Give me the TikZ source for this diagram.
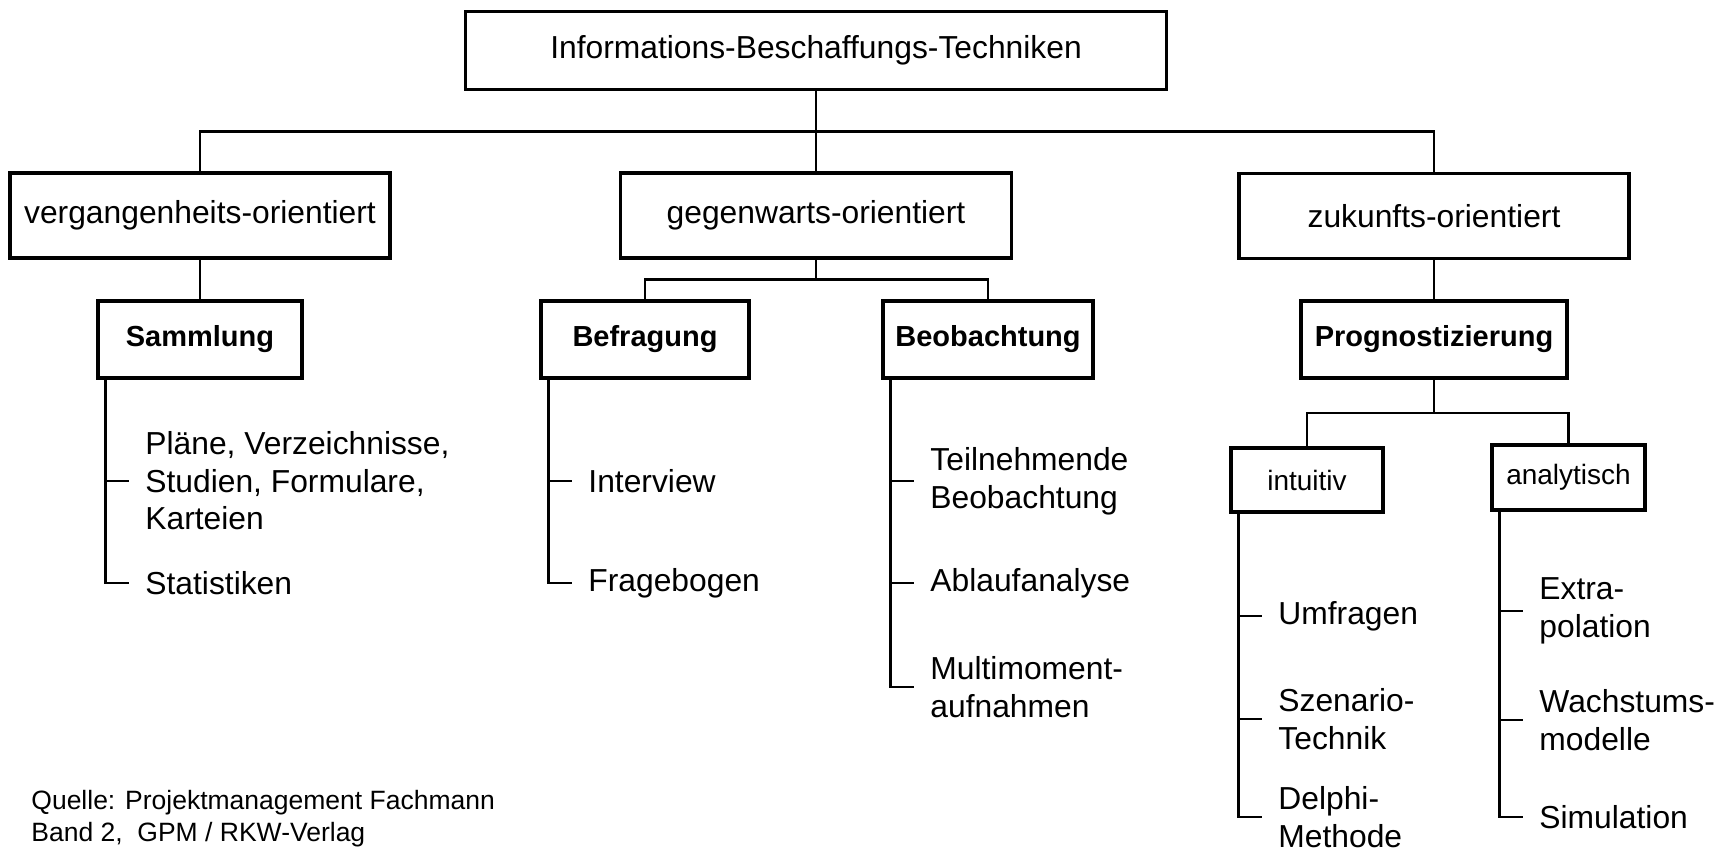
\documentclass[tikz,border=0pt]{standalone}
\usepackage{fontspec}
\setmainfont{Liberation Sans}
\usetikzlibrary{calc}

\begin{document}
\begin{tikzpicture}[x=0.5pt,y=-0.5pt,line width=1.4pt,
    box/.style={draw,line width=1.6pt,inner sep=0pt,font=\fontsize{15.9}{19}\selectfont},
    subbox/.style={box,font=\fontsize{14.5}{17}\selectfont\bfseries},
    smallbox/.style={box,font=\fontsize{14}{17}\selectfont},
    leaf/.style={anchor=west,inner xsep=7.5pt,inner ysep=0pt,align=left,font=\fontsize{15.9}{18.8}\selectfont}]
  \useasboundingbox (0,0) rectangle (1716,850);
  \node[box,minimum width=350.5pt,minimum height=39pt] (ibt) at (816,50.5) {Informations-Beschaffungs-Techniken};
  \node[box,minimum width=190pt,minimum height=42.5pt] (verg) at (200,215.5) {vergangenheits-orientiert};
  \node[box,minimum width=195.5pt,minimum height=42.5pt] (gegen) at (816,215.5) {gegenwarts-orientiert};
  \node[box,minimum width=195pt,minimum height=42.5pt] (zuk) at (1434,216) {zukunfts-orientiert};
  \node[subbox,minimum width=102pt,minimum height=38.5pt] (samm) at (200,339.5) {Sammlung};
  \node[subbox,minimum width=104pt,minimum height=38.5pt] (befr) at (645,339.5) {Befragung};
  \node[subbox,minimum width=105pt,minimum height=38.5pt] (beob) at (988,339.5) {Beobachtung};
  \node[subbox,minimum width=133pt,minimum height=38.5pt] (prog) at (1434,339.5) {Prognostizierung};
  \node[smallbox,minimum width=76pt,minimum height=32pt] (intu) at (1307,480) {intuitiv};
  \node[smallbox,minimum width=76.5pt,minimum height=32.5pt] (anal) at (1568.5,477.5) {analytisch};

  \coordinate (bus) at ($(ibt.south)!0.5!(gegen.north)$);
  \draw (ibt) -- (gegen);
  \draw (verg.north) |- (bus) -| (zuk.north);
  \draw (verg) -- (samm);
  \draw (zuk) -- (prog);
  \coordinate (gbus) at ($(gegen.south)!0.5!(gegen.south |- befr.north)$);
  \draw (gegen.south) -- (gbus);
  \draw (befr.north) |- (gbus) -| (beob.north);
  \coordinate (pbus) at ($(prog.south)!0.5!(prog.south |- intu.north)$);
  \draw (prog.south) -- (pbus);
  \draw (intu.north) |- (pbus) -| (anal.north);

  \node[leaf] (plaene) at (129,481) {Pläne, Verzeichnisse,\\Studien, Formulare,\\Karteien};
  \node[leaf] (statist) at (129,583) {Statistiken};
  \node[leaf] (interview) at (572,481) {Interview};
  \node[leaf] (frageb) at (572,583) {Fragebogen};
  \node[leaf] (teiln) at (914,481) {Teilnehmende\\Beobachtung};
  \node[leaf] (ablauf) at (914,583) {Ablaufanalyse};
  \node[leaf] (multim) at (914,687) {Multimoment-\\aufnahmen};
  \node[leaf] (umfr) at (1262,616) {Umfragen};
  \node[leaf] (szen) at (1262,719) {Szenario-\\Technik};
  \node[leaf] (delphi) at (1262,817) {Delphi-\\Methode};
  \node[leaf] (extra) at (1523,611) {Extra-\\polation};
  \node[leaf] (wachs) at (1523,720) {Wachstums-\\modelle};
  \node[leaf] (simul) at (1523,817) {Simulation};

  \coordinate (sammB) at ($(samm.south west)+(9,0)$);
  \draw (sammB) |- (statist.west);
  \draw (sammB |- plaene.west) -- (plaene.west);
  \coordinate (befrB) at ($(befr.south west)+(9,0)$);
  \draw (befrB) |- (frageb.west);
  \draw (befrB |- interview.west) -- (interview.west);
  \coordinate (beobB) at ($(beob.south west)+(9,0)$);
  \draw (beobB) |- (multim.west);
  \draw (beobB |- teiln.west) -- (teiln.west);
  \draw (beobB |- ablauf.west) -- (ablauf.west);
  \coordinate (intuB) at ($(intu.south west)+(9,0)$);
  \draw (intuB) |- (delphi.west);
  \draw (intuB |- umfr.west) -- (umfr.west);
  \draw (intuB |- szen.west) -- (szen.west);
  \coordinate (analB) at ($(anal.south west)+(9,0)$);
  \draw (analB) |- (simul.west);
  \draw (analB |- extra.west) -- (extra.west);
  \draw (analB |- wachs.west) -- (wachs.west);

  \node[anchor=west,align=left,inner sep=0pt,font=\fontsize{13.25}{16}\selectfont] (quelle) at (30,819) {Quelle: Projektmanagement Fachmann\\Band 2,\ \ GPM / RKW-Verlag};
\end{tikzpicture}
\end{document}
